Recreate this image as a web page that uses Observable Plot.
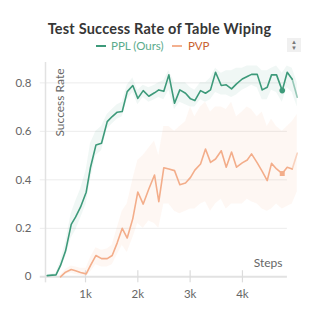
<!DOCTYPE html>
<html>
<head>
<meta charset="utf-8">
<script src="https://cdn.jsdelivr.net/npm/d3@7"></script>
<script src="https://cdn.jsdelivr.net/npm/@observablehq/plot@0.6"></script>
<style>
  html, body { margin: 0; padding: 0; background: #fff; }
  body { width: 319px; height: 319px; overflow: hidden; font-family: Lato, "Noto Sans", sans-serif; position: relative; }
  #title { position: absolute; left: 0; top: 19px; width: 319px; text-align: center; font-weight: bold; font-size: 14.5px; letter-spacing: 0.2px; color: #363636; line-height: 20px; }
  #legend { position: absolute; left: 0; top: 38px; width: 319px; height: 16px; font-size: 11.5px; line-height: 16px; }
  .sw { position: absolute; top: 7px; width: 10px; height: 2px; }
  .lt { position: absolute; top: 0; }
  #icon { position: absolute; left: 287px; top: 38px; width: 14px; height: 14px; background: #f0f0f0; color: #777; font-size: 6px; line-height: 6px; text-align: center; padding-top: 1px; box-sizing: border-box; }
  #chart { position: absolute; left: 0; top: 56px; }
</style>
</head>
<body>
<div id="title">Test Success Rate of Table Wiping</div>
<div id="legend">
  <div class="sw" style="left:96px;background:#3d9a7a"></div>
  <div class="lt" style="left:111px;color:#5aab8c">PPL (Ours)</div>
  <div class="sw" style="left:172px;background:#f3b08f"></div>
  <div class="lt" style="left:188px;color:#c9622f">PVP</div>
</div>
<div id="icon">▲<br>▼</div>
<div id="chart"></div>
<script>
const chartTitle = "Test Success Rate of Table Wiping";
const xLabel = "Steps";
const yLabel = "Success Rate";
const xTicks = [1000, 2000, 3000, 4000];
const xTickLabels = ["1k", "2k", "3k", "4k"];
const yTicks = [0, 0.2, 0.4, 0.6, 0.8];
const yTickLabels = ["0", "0.2", "0.4", "0.6", "0.8"];

const steps = [268, 363, 436, 522, 618, 727, 809, 904, 1013, 1096, 1200, 1306, 1415, 1510, 1606, 1702, 1797, 1904, 2000, 2103,
  2210, 2319, 2401, 2497, 2593, 2702, 2803, 2912, 3008, 3090, 3199, 3294, 3390, 3486, 3595, 3690, 3792, 3887, 3996, 4092,
  4174, 4283, 4378, 4474, 4556, 4652, 4761, 4856, 4952, 5048];

const pplMean = [0.005, 0.007, 0.008, 0.047, 0.106, 0.216, 0.246, 0.287, 0.349, 0.452, 0.544, 0.551, 0.640, 0.661, 0.679, 0.682, 0.764, 0.789, 0.736, 0.768,
  0.745, 0.759, 0.771, 0.765, 0.833, 0.716, 0.771, 0.757, 0.734, 0.727, 0.768, 0.757, 0.771, 0.844, 0.789, 0.792, 0.775, 0.796, 0.816, 0.826,
  0.835, 0.835, 0.771, 0.782, 0.833, 0.833, 0.768, 0.844, 0.815, 0.741];
const pplLow = [0, 0, 0, 0.03, 0.08, 0.16, 0.19, 0.24, 0.30, 0.40, 0.50, 0.52, 0.61, 0.63, 0.65, 0.66, 0.73, 0.76, 0.71, 0.74,
  0.72, 0.73, 0.74, 0.73, 0.77, 0.69, 0.72, 0.71, 0.70, 0.70, 0.73, 0.72, 0.73, 0.76, 0.75, 0.75, 0.74, 0.75, 0.77, 0.78,
  0.79, 0.78, 0.73, 0.73, 0.77, 0.76, 0.72, 0.78, 0.76, 0.70];
const pplHigh = [0.01, 0.012, 0.015, 0.065, 0.14, 0.26, 0.31, 0.36, 0.44, 0.55, 0.60, 0.62, 0.67, 0.69, 0.71, 0.72, 0.79, 0.82, 0.77, 0.79,
  0.78, 0.79, 0.80, 0.81, 0.85, 0.80, 0.80, 0.80, 0.78, 0.77, 0.80, 0.80, 0.82, 0.86, 0.84, 0.85, 0.85, 0.86, 0.86, 0.87,
  0.87, 0.87, 0.85, 0.85, 0.86, 0.87, 0.84, 0.87, 0.86, 0.80];

const pvpSteps = steps.slice(3);
const pvpMean = [0.0, 0.019, 0.03, 0.025, 0.018, 0.012, 0.047, 0.088, 0.075, 0.075, 0.088, 0.14, 0.20, 0.16, 0.24, 0.35, 0.30,
  0.362, 0.42, 0.31, 0.45, 0.445, 0.438, 0.38, 0.387, 0.41, 0.44, 0.465, 0.527, 0.472, 0.486, 0.52, 0.452, 0.515, 0.452, 0.47,
  0.482, 0.507, 0.47, 0.435, 0.397, 0.468, 0.445, 0.426, 0.452, 0.445, 0.51];
const pvpLow = [0, 0.01, 0.015, 0.01, 0.005, 0, 0.02, 0.05, 0.04, 0.04, 0.05, 0.09, 0.13, 0.10, 0.16, 0.22, 0.20,
  0.23, 0.22, 0.20, 0.30, 0.30, 0.27, 0.26, 0.27, 0.28, 0.28, 0.30, 0.31, 0.27, 0.30, 0.32, 0.28, 0.30, 0.30, 0.30,
  0.32, 0.31, 0.30, 0.28, 0.27, 0.28, 0.30, 0.28, 0.29, 0.30, 0.35];
const pvpHigh = [0.005, 0.03, 0.045, 0.04, 0.035, 0.035, 0.08, 0.12, 0.11, 0.115, 0.13, 0.20, 0.27, 0.30, 0.40, 0.48, 0.50,
  0.53, 0.56, 0.50, 0.62, 0.62, 0.60, 0.62, 0.64, 0.70, 0.66, 0.70, 0.72, 0.68, 0.70, 0.70, 0.69, 0.72, 0.66, 0.68,
  0.70, 0.69, 0.66, 0.68, 0.62, 0.65, 0.62, 0.60, 0.62, 0.64, 0.67];

const markerIndex = 46;

const ppl = steps.map((s, i) => ({step: s, mean: pplMean[i], lo: pplLow[i], hi: pplHigh[i]}));
const pvp = pvpSteps.map((s, i) => ({step: s, mean: pvpMean[i], lo: pvpLow[i], hi: pvpHigh[i]}));

const green = "#3d9a7a";
const orange = "#f3ad8a";
const n1 = ppl.length, n2 = pvp.length;
const markers = [ppl[markerIndex], pvp.find(d => d.step === steps[markerIndex])];

const chart = Plot.plot({
  width: 319,
  height: 263,
  marginLeft: 45,
  marginRight: 19,
  marginTop: 6,
  marginBottom: 42.7,
  style: {fontFamily: "Lato, 'Noto Sans', sans-serif", fontSize: "11px", color: "#666", background: "transparent"},
  x: {domain: [235, 5110]},
  y: {domain: [0, 0.884]},
  marks: [
    Plot.ruleY(yTicks.slice(1), {x1: 135, x2: 4860, stroke: "#ececec", strokeWidth: 1}),
    Plot.areaY(pvp, {x: "step", y1: "lo", y2: "hi", fill: orange, fillOpacity: 0.1}),
    Plot.areaY(ppl, {x: "step", y1: "lo", y2: "hi", fill: green, fillOpacity: 0.08}),
    Plot.ruleY([0], {x1: 135, x2: 4860, stroke: "#e2e2e2", strokeWidth: 2}),
    Plot.ruleX([235], {y1: -0.025, y2: 0.884, stroke: "#e2e2e2", strokeWidth: 1.5}),
    Plot.ruleX(xTicks, {y1: -0.025, y2: 0.025, stroke: "#dcdcdc", strokeWidth: 1.2}),
    Plot.line(pvp.slice(0, n2 - 1), {x: "step", y: "mean", stroke: orange, strokeWidth: 1.6}),
    Plot.line(pvp.slice(n2 - 2), {x: "step", y: "mean", stroke: orange, strokeWidth: 1.6, strokeOpacity: 0.5}),
    Plot.line(ppl.slice(0, n1 - 1), {x: "step", y: "mean", stroke: green, strokeWidth: 1.6}),
    Plot.line(ppl.slice(n1 - 2), {x: "step", y: "mean", stroke: green, strokeWidth: 1.6, strokeOpacity: 0.5}),
    Plot.dot([markers[0]], {x: "step", y: "mean", r: 2.8, fill: green}),
    Plot.dot([markers[1]], {x: "step", y: "mean", r: 2.8, fill: orange, symbol: "square"}),
    Plot.axisY(yTicks, {tickSize: 0, tickPadding: 14, tickFormat: (d, i) => yTickLabels[yTicks.indexOf(d)], fill: "#666", fontSize: 11.5, label: null}),
    Plot.axisX(xTicks, {tickSize: 0, tickPadding: 13, tickFormat: d => xTickLabels[xTicks.indexOf(d)], fill: "#666", fontSize: 11.5, label: null}),
    Plot.text([yLabel], {frameAnchor: "top-left", rotate: -90, textAnchor: "end", dx: 10, dy: 6, fill: "#666", fontSize: 12}),
    Plot.text([xLabel], {frameAnchor: "bottom-right", textAnchor: "end", dx: -18, dy: -10, fill: "#666", fontSize: 12})
  ]
});
document.getElementById("chart").appendChild(chart);
</script>
</body>
</html>
